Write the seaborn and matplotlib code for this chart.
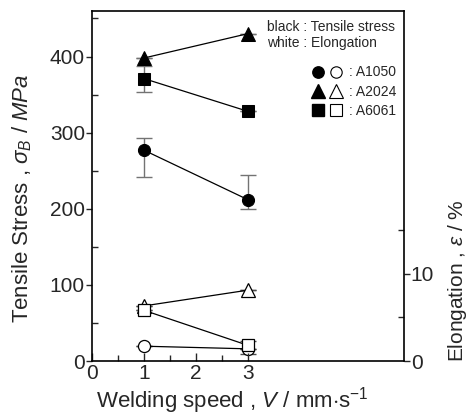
import matplotlib
matplotlib.use("Agg")
import matplotlib.pyplot as plt
import numpy as np
import pandas as pd
import seaborn as sns
from matplotlib.ticker import MultipleLocator, FixedLocator
from matplotlib.legend_handler import HandlerTuple
from matplotlib.lines import Line2D

# data
speed = [1, 3]
alloys = ["A1050", "A2024", "A6061"]
markers = {"A1050": "o", "A2024": "^", "A6061": "s"}

tensile = {"A1050": [277, 212], "A2024": [398, 430], "A6061": [371, 328]}
tensile_lo = {"A1050": [242, 200], "A2024": [398, 430], "A6061": [354, 328]}
tensile_hi = {"A1050": [293, 244], "A2024": [398, 430], "A6061": [388, 328]}

elong = {"A1050": [1.7, 1.4], "A2024": [6.3, 8.1], "A6061": [5.8, 1.8]}
elong_lo = {"A1050": [1.7, 1.4], "A2024": [6.3, 8.1], "A6061": [5.8, 0.8]}
elong_hi = {"A1050": [1.7, 1.4], "A2024": [6.3, 8.1], "A6061": [5.8, 2.3]}

sns.set_style("ticks")
plt.rcParams["font.family"] = ["Liberation Sans", "DejaVu Sans"]
plt.rcParams["mathtext.fontset"] = "custom"
plt.rcParams["mathtext.rm"] = "Liberation Sans"
plt.rcParams["mathtext.it"] = "Liberation Sans:italic"

rows = []
for a in alloys:
    for i, v in enumerate(speed):
        rows.append({"alloy": a, "speed": v, "tensile": tensile[a][i], "elong": elong[a][i]})
df = pd.DataFrame(rows)

msize = {"A1050": 8.7, "A2024": 10.5, "A6061": 8.7}

fig = plt.figure(figsize=(4.69, 4.16), dpi=100)
ax = fig.add_axes([0.196, 0.132, 0.665, 0.842])
ax2 = ax.twinx()

# filled markers: tensile stress on the left axis
for a in ["A1050", "A6061", "A2024"]:
    d = df[df.alloy == a]
    lo = np.array(tensile[a]) - np.array(tensile_lo[a])
    hi = np.array(tensile_hi[a]) - np.array(tensile[a])
    ax.errorbar(speed, tensile[a], yerr=[lo, hi], fmt="none", ecolor="0.45",
                elinewidth=1, capsize=6, capthick=1, zorder=2)
    sns.lineplot(data=d, x="speed", y="tensile", ax=ax, color="black", lw=0.9,
                 marker=markers[a], markersize=msize[a],
                 markerfacecolor="black", markeredgecolor="black", zorder=3)

# open markers: elongation on the right axis
for a in ["A2024", "A1050", "A6061"]:
    d = df[df.alloy == a]
    lo = np.array(elong[a]) - np.array(elong_lo[a])
    hi = np.array(elong_hi[a]) - np.array(elong[a])
    ax2.errorbar(speed, elong[a], yerr=[lo, hi], fmt="none", ecolor="0.3",
                 elinewidth=1, capsize=6, capthick=1, zorder=2)
    sns.lineplot(data=d, x="speed", y="elong", ax=ax2, color="black", lw=0.9,
                 marker=markers[a], markersize=msize[a],
                 markerfacecolor="white", markeredgecolor="black",
                 markeredgewidth=0.9, zorder=3)

ax.set_xlim(0, 6)
ax.set_ylim(0, 460)
ax2.set_ylim(0, 40)

ax.xaxis.set_major_locator(FixedLocator([0, 1, 2, 3]))
ax.xaxis.set_minor_locator(FixedLocator([0.5, 1.5, 2.5]))
ax.yaxis.set_major_locator(MultipleLocator(100))
ax.yaxis.set_minor_locator(MultipleLocator(50))
ax2.yaxis.set_major_locator(FixedLocator([0, 10]))
ax2.yaxis.set_minor_locator(FixedLocator([5, 15]))

ax.tick_params(axis="x", which="both", direction="in", labelsize=15, pad=2, top=False)
ax.tick_params(axis="x", which="major", length=6, width=1)
ax.tick_params(axis="x", which="minor", length=4, width=1)
ax.tick_params(axis="y", which="major", direction="out", length=4, width=1, labelsize=15, pad=1)
ax.tick_params(axis="y", which="minor", direction="in", length=4, width=1)
ax2.tick_params(axis="y", which="major", direction="out", length=4, width=1, labelsize=15, pad=1)
ax2.tick_params(axis="y", which="minor", direction="in", length=4, width=1)

for s in ax.spines.values():
    s.set_linewidth(1.2)
    s.set_color("black")
for s in ax2.spines.values():
    s.set_visible(False)

ax.set_xlabel(r"Welding speed , $V$ / mm$\cdot$s$^{-1}$", fontsize=16)
ax.xaxis.set_label_coords(0.45, -0.068)
ax.set_ylabel(r"Tensile Stress , $\sigma_B$ / $MPa$", fontsize=16)
ax.yaxis.set_label_coords(-0.185, 0.466)
ax2.set_ylabel(r"Elongation , $\varepsilon$ / %", fontsize=15, rotation=90)
ax2.yaxis.set_label_coords(1.135, 0.23)

# legend inside the frame
ax.text(0.561, 0.942, "black : Tensile stress", transform=ax.transAxes, fontsize=10)
ax.text(0.561, 0.897, "white : Elongation", transform=ax.transAxes, fontsize=10)
handles = []
for a in alloys:
    m = markers[a]
    f = Line2D([], [], marker=m, color="black", ls="none", markersize=msize[a] - 0.5)
    o = Line2D([], [], marker=m, color="black", ls="none", markersize=msize[a] - 0.5,
               markerfacecolor="white", markeredgewidth=0.8)
    handles.append((f, o))
ax.legend(handles, [": " + a for a in alloys], handler_map={tuple: HandlerTuple(ndivide=None, pad=0.5)},
          loc="upper right", bbox_to_anchor=(0.995, 0.86), frameon=False, fontsize=10,
          handlelength=2.2, handletextpad=0.5, labelspacing=0.38, borderaxespad=0)

ax.set_zorder(ax2.get_zorder() + 1)
ax.patch.set_visible(False)

fig.savefig("out.png", dpi=100)
